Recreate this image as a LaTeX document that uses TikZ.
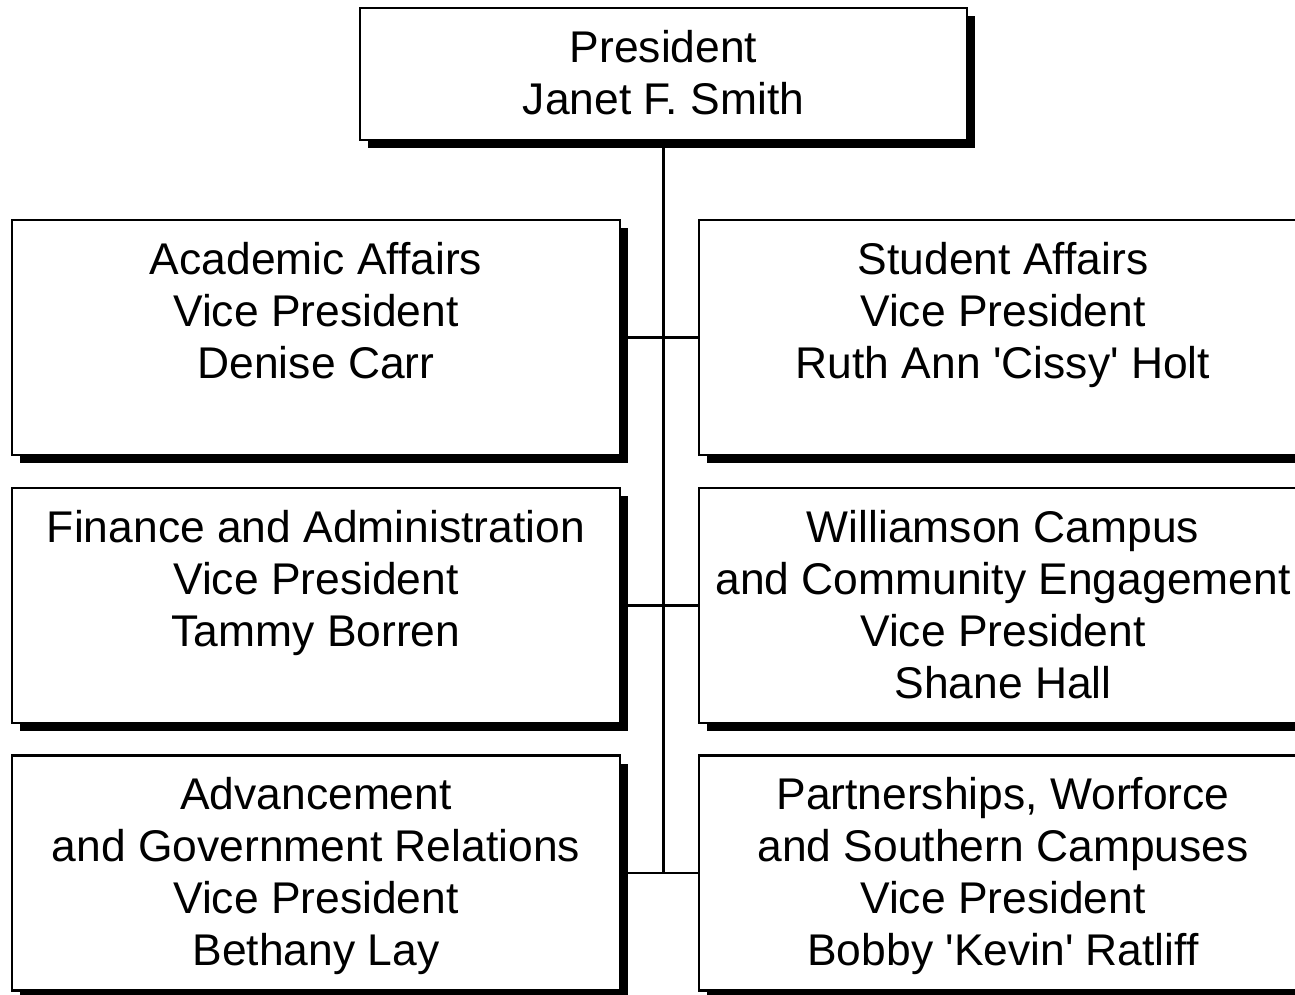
\documentclass[tikz,border=0pt]{standalone}
\usepackage{fontspec}
\setmainfont{Liberation Sans}
\usetikzlibrary{shadows}
\begin{document}
\begin{tikzpicture}[x=1pt,y=1pt,
  box/.style={draw=black, line width=2.2pt, fill=white, rectangle, inner sep=0pt,
    drop shadow={shadow xshift=8pt, shadow yshift=-8pt, fill=black, opacity=1}},
  txt/.style={anchor=north, align=center, inner sep=0pt,
    font=\fontsize{44.4}{52}\selectfont},
  link/.style={draw=black, line width=2.4pt}]
\useasboundingbox (0,0) rectangle (1295,-994);
\clip (0,0) rectangle (1295,-994);
% boxes
\node[box, minimum width=607pt, minimum height=132pt] (P) at (663.5,-74) {};
\node[box, minimum width=608pt, minimum height=235pt] (L1) at (316,-337.5) {};
\node[box, minimum width=608pt, minimum height=235pt] (L2) at (316,-605.5) {};
\node[box, minimum width=608pt, minimum height=235pt] (L3) at (316,-873) {};
\node[box, minimum width=608pt, minimum height=235pt] (R1) at (1003,-337.5) {};
\node[box, minimum width=608pt, minimum height=235pt] (R2) at (1003,-605.5) {};
\node[box, minimum width=608pt, minimum height=235pt] (R3) at (1003,-873) {};
% connectors
\coordinate (bus) at (P.south |- L3.east);
\draw[link] (P.south) -- (bus);
\draw[link] (L1.east) -- (R1.west);
\draw[link] (L2.east) -- (R2.west);
\draw[link] (L3.east) -- (R3.west);
% texts
\node[txt] (tP) at ([yshift=-23pt]P.north) {President\\Janet F. Smith};
\node[txt] (tL1) at ([yshift=-23pt]L1.north) {Academic Affairs\\Vice President\\Denise Carr};
\node[txt] (tL2) at ([yshift=-23pt]L2.north) {Finance and Administration\\Vice President\\Tammy Borren};
\node[txt] (tL3) at ([yshift=-23pt]L3.north) {Advancement\\and Government Relations\\Vice President\\Bethany Lay};
\node[txt] (tR1) at ([yshift=-23pt]R1.north) {Student Affairs\\Vice President\\Ruth Ann \textquotesingle Cissy\textquotesingle{} Holt};
\node[txt] (tR2) at ([yshift=-23pt]R2.north) {Williamson Campus\\and Community Engagement\\Vice President\\Shane Hall};
\node[txt] (tR3) at ([yshift=-23pt]R3.north) {Partnerships, Worforce\\and Southern Campuses\\Vice President\\Bobby \textquotesingle Kevin\textquotesingle{} Ratliff};
\end{tikzpicture}
\end{document}
